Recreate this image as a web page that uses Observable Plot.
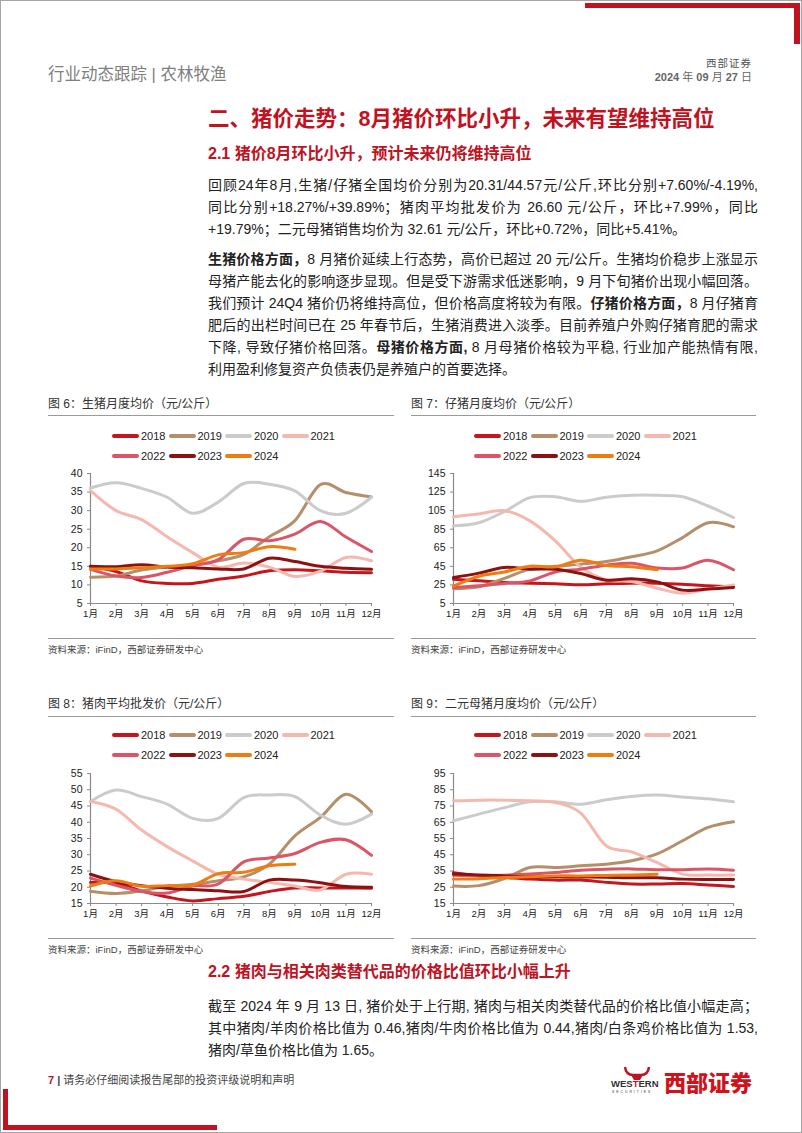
<!DOCTYPE html>
<html><head><meta charset="utf-8">
<script src="https://cdn.jsdelivr.net/npm/d3@7"></script>
<script src="https://cdn.jsdelivr.net/npm/@observablehq/plot@0.6"></script>
<style>
html,body{margin:0;padding:0;background:#fff;}
#page{position:relative;width:802px;height:1133px;overflow:hidden;box-sizing:border-box;border:1px solid #a6a6a6;
 font-family:"Liberation Sans",Arial,"Noto Sans CJK SC",sans-serif;color:#222;}
.abs{position:absolute;white-space:nowrap;}
.ln{position:absolute;left:207px;width:550px;height:22px;line-height:22px;font-size:14px;}
.j{text-align:justify;text-align-last:justify;}
.red{color:#c0121f;}
.ctitle{position:absolute;font-size:12px;color:#333;height:20px;line-height:20px;white-space:nowrap;}
.hr{position:absolute;height:1.3px;background:#9a9a9a;}
.src{position:absolute;font-size:9.5px;color:#444;height:16px;line-height:16px;white-space:nowrap;}
.legend{position:absolute;width:232px;font-size:11px;line-height:20px;}
.legend .it{display:inline-block;width:56.5px;height:20px;white-space:nowrap;}
.legend i{display:inline-block;width:27px;height:3.8px;border-radius:2px;vertical-align:middle;margin-right:2px;position:relative;top:-1px;}
.chart{position:absolute;}
b{font-weight:700;}
</style></head>
<body>
<div id="page">
 <!-- decorations -->
 <div class="abs" style="left:584px;top:2px;width:215px;height:5px;background:#c0121f"></div>
 <div class="abs" style="left:793px;top:2px;width:6px;height:41px;background:#c0121f"></div>
 <div class="abs" style="left:2px;top:1088px;width:5px;height:41px;background:#c0121f"></div>
 <div class="abs" style="left:2px;top:1124px;width:214px;height:5px;background:#c0121f"></div>

 <div class="abs" style="left:47px;top:62px;height:22px;line-height:22px;font-size:16.5px;color:#808080;">行业动态跟踪 | 农林牧渔</div>
 <div class="abs" style="right:49px;top:54px;height:16px;line-height:16px;font-size:10.5px;color:#555;letter-spacing:1px;">西部证券</div>
 <div class="abs" style="right:49px;top:68px;height:16px;line-height:16px;font-size:11px;color:#666;font-weight:700;">2024 <span style="font-weight:400">年</span> 09 <span style="font-weight:400">月</span> 27 <span style="font-weight:400">日</span></div>

 <div class="abs red" style="left:207px;top:103px;height:30px;line-height:30px;font-size:21.5px;font-weight:700;">二、猪价走势：8月猪价环比小升，未来有望维持高位</div>
 <div class="abs red" style="left:207px;top:142px;height:22px;line-height:22px;font-size:16px;font-weight:700;">2.1 猪价8月环比小升，预计未来仍将维持高位</div>

 <div class="ln j" style="top:173px">回顾24年8月,生猪/仔猪全国均价分别为20.31/44.57元/公斤,环比分别+7.60%/-4.19%,</div>
 <div class="ln j" style="top:195px">同比分别+18.27%/+39.89%；猪肉平均批发价为 26.60 元/公斤，环比+7.99%，同比</div>
 <div class="ln" style="top:217px">+19.79%；二元母猪销售均价为 32.61 元/公斤，环比+0.72%，同比+5.41%。</div>

 <div class="ln j" style="top:247px"><b>生猪价格方面，</b>8 月猪价延续上行态势，高价已超过 20 元/公斤。生猪均价稳步上涨显示</div>
 <div class="ln j" style="top:269px">母猪产能去化的影响逐步显现。但是受下游需求低迷影响，9 月下旬猪价出现小幅回落。</div>
 <div class="ln j" style="top:291px">我们预计 24Q4 猪价仍将维持高位，但价格高度将较为有限。<b>仔猪价格方面，</b>8 月仔猪育</div>
 <div class="ln j" style="top:313px">肥后的出栏时间已在 25 年春节后，生猪消费进入淡季。目前养殖户外购仔猪育肥的需求</div>
 <div class="ln j" style="top:335px">下降, 导致仔猪价格回落。<b>母猪价格方面,</b> 8 月母猪价格较为平稳, 行业加产能热情有限,</div>
 <div class="ln" style="top:357px">利用盈利修复资产负债表仍是养殖户的首要选择。</div>

 <!-- chart 6 -->
 <div class="ctitle" style="left:47px;top:393px">图 6：生猪月度均价（元/公斤）</div>
 <div class="hr" style="left:47px;top:413.5px;width:346px"></div>
 <div class="legend" id="lg6" style="left:111px;top:425px"></div>
 <div class="chart" id="c6" style="left:47px;top:464px"></div>
 <div class="hr" style="left:47px;top:636.5px;width:346px"></div>
 <div class="src" style="left:47px;top:641px">资料来源：iFinD，西部证券研发中心</div>

 <!-- chart 7 -->
 <div class="ctitle" style="left:410px;top:393px">图 7：仔猪月度均价（元/公斤）</div>
 <div class="hr" style="left:410px;top:413.5px;width:345px"></div>
 <div class="legend" id="lg7" style="left:473px;top:425px"></div>
 <div class="chart" id="c7" style="left:410px;top:464px"></div>
 <div class="hr" style="left:410px;top:636.5px;width:345px"></div>
 <div class="src" style="left:410px;top:641px">资料来源：iFinD，西部证券研发中心</div>

 <!-- chart 8 -->
 <div class="ctitle" style="left:47px;top:693px">图 8：猪肉平均批发价（元/公斤）</div>
 <div class="hr" style="left:47px;top:714.5px;width:346px"></div>
 <div class="legend" id="lg8" style="left:111px;top:724px"></div>
 <div class="chart" id="c8" style="left:47px;top:764px"></div>
 <div class="hr" style="left:47px;top:937px;width:346px"></div>
 <div class="src" style="left:47px;top:941px">资料来源：iFinD，西部证券研发中心</div>

 <!-- chart 9 -->
 <div class="ctitle" style="left:410px;top:693px">图 9：二元母猪月度均价（元/公斤）</div>
 <div class="hr" style="left:410px;top:714.5px;width:345px"></div>
 <div class="legend" id="lg9" style="left:473px;top:724px"></div>
 <div class="chart" id="c9" style="left:410px;top:764px"></div>
 <div class="hr" style="left:410px;top:937px;width:345px"></div>
 <div class="src" style="left:410px;top:941px">资料来源：iFinD，西部证券研发中心</div>

 <div class="abs red" style="left:207px;top:960px;height:22px;line-height:22px;font-size:16px;font-weight:700;">2.2 猪肉与相关肉类替代品的价格比值环比小幅上升</div>
 <div class="ln j" style="top:994px">截至 2024 年 9 月 13 日, 猪价处于上行期, 猪肉与相关肉类替代品的价格比值小幅走高；</div>
 <div class="ln j" style="top:1016px">其中猪肉/羊肉价格比值为 0.46,猪肉/牛肉价格比值为 0.44,猪肉/白条鸡价格比值为 1.53,</div>
 <div class="ln" style="top:1038px">猪肉/草鱼价格比值为 1.65。</div>

 <div class="abs" style="left:47px;top:1071px;height:16px;line-height:16px;font-size:11px;color:#444;"><b style="color:#c0121f">7</b> <b>|</b> 请务必仔细阅读报告尾部的投资评级说明和声明</div>

 <svg class="abs" style="left:608px;top:1062px" width="56" height="34" viewBox="0 0 56 34">
  <path d="M16,4 Q17,12 24,12 L32,12 Q39,12 40,4" fill="none" stroke="#c0121f" stroke-width="2.4"/>
  <path d="M22,12 L34,12 L31,17 L25,17 Z" fill="#c0121f"/>
  <text x="2" y="24" font-size="9.5" font-weight="700" fill="#333" font-family="Liberation Sans, Arial">WES<tspan fill="#c0121f">T</tspan>ERN</text>
  <text x="3" y="30" font-size="3.4" fill="#333" letter-spacing="2" font-family="Liberation Sans, Arial">SECURITIES</text>
 </svg>
 <div class="abs" style="left:663px;top:1066px;height:28px;line-height:28px;font-size:22px;font-weight:900;color:#d0121b;font-family:'Noto Sans CJK SC',sans-serif;">西部证券</div>
</div>

<script>
// ---- data ----
const years = ["2018", "2019", "2020", "2021", "2022", "2023", "2024"];
const yearColors = ["#c5161d", "#b48f6a", "#cbcbcb", "#f4b8ae", "#dc5567", "#8c1111", "#f07c0f"];
const months = [1, 2, 3, 4, 5, 6, 7, 8, 9, 10, 11, 12];
const monthLabels = ["1月", "2月", "3月", "4月", "5月", "6月", "7月", "8月", "9月", "10月", "11月", "12月"];

// 图6 生猪月度均价
const hogPrice = [
  [15.0, 13.6, 11.1, 10.4, 10.4, 11.5, 12.4, 13.8, 14.1, 13.8, 13.4, 13.3],
  [12.1, 12.4, 14.0, 14.8, 15.2, 16.5, 18.2, 23.0, 27.3, 37.0, 34.9, 33.7],
  [36.1, 37.5, 36.0, 33.6, 29.3, 32.3, 37.3, 37.1, 35.3, 30.0, 29.3, 33.6],
  [35.4, 30.0, 27.6, 23.0, 18.7, 14.8, 15.9, 14.8, 12.3, 13.7, 17.4, 16.5],
  [14.2, 12.4, 12.0, 13.4, 15.2, 16.8, 22.3, 21.9, 23.7, 27.1, 22.9, 19.0],
  [15.0, 14.9, 15.4, 14.8, 14.6, 14.3, 14.3, 17.2, 16.3, 15.0, 14.5, 14.2],
  [14.3, 14.3, 14.6, 15.0, 15.7, 18.1, 18.7, 20.3, 19.6]
];
const hogTicks = [5, 10, 15, 20, 25, 30, 35, 40];

// 图7 仔猪月度均价
const pigletPrice = [
  [31.0, 29.4, 27.6, 26.9, 26.2, 25.2, 26.2, 26.9, 26.9, 25.8, 24.0, 23.0],
  [21.0, 23.0, 32.0, 42.0, 45.0, 47.4, 50.2, 55.3, 61.7, 76.0, 92.0, 87.6],
  [88.6, 92.0, 104.0, 119.0, 120.0, 115.0, 119.5, 121.5, 121.5, 120.0, 110.0, 97.6],
  [98.5, 101.5, 105.0, 94.0, 72.5, 44.0, 30.5, 28.7, 21.5, 16.0, 20.5, 25.0],
  [22.2, 24.0, 26.6, 29.4, 39.0, 42.0, 46.3, 48.4, 43.2, 43.2, 51.7, 41.3],
  [33.0, 37.7, 43.8, 42.0, 42.0, 37.3, 30.1, 31.6, 28.3, 19.4, 20.5, 22.2],
  [23.7, 34.4, 39.0, 45.2, 44.5, 51.7, 46.0, 44.6, 41.3]
];
const pigletTicks = [5, 25, 45, 65, 85, 105, 125, 145];

// 图8 猪肉平均批发价
const porkPrice = [
  [21.5, 21.2, 18.8, 17.0, 15.8, 16.5, 17.2, 18.7, 19.8, 19.8, 19.8, 19.7],
  [18.8, 18.1, 18.9, 20.3, 20.9, 22.0, 23.2, 27.1, 35.8, 41.5, 48.6, 43.2],
  [46.4, 49.9, 47.9, 45.6, 41.2, 41.2, 47.6, 48.4, 47.9, 42.2, 39.4, 42.5],
  [46.4, 44.0, 37.6, 32.5, 28.1, 24.0, 22.5, 21.5, 20.4, 19.2, 24.0, 24.0],
  [22.8, 20.6, 18.7, 18.2, 20.4, 21.0, 27.8, 29.0, 30.4, 33.8, 34.6, 29.8],
  [24.0, 21.7, 20.5, 19.7, 19.3, 18.9, 18.7, 22.2, 22.2, 21.4, 20.2, 20.0],
  [20.4, 22.0, 20.3, 20.5, 20.6, 24.2, 24.6, 26.6, 27.1]
];
const porkTicks = [15, 20, 25, 30, 35, 40, 45, 50, 55];

// 图9 二元母猪月度均价
const sowPrice = [
  [34.0, 32.0, 31.0, 30.0, 29.4, 29.4, 28.0, 27.0, 27.0, 27.3, 26.4, 25.5],
  [25.7, 26.0, 30.4, 37.2, 37.2, 38.2, 39.2, 41.3, 45.5, 53.6, 61.8, 65.3],
  [65.9, 70.0, 74.0, 77.6, 77.6, 76.1, 78.8, 80.8, 81.7, 80.6, 79.4, 77.6],
  [78.2, 78.6, 78.6, 78.2, 77.2, 70.6, 50.5, 46.8, 40.2, 33.1, 32.5, 32.5],
  [32.4, 32.0, 32.4, 33.1, 34.1, 35.5, 36.1, 36.3, 35.8, 35.8, 36.3, 35.5],
  [33.1, 32.6, 32.0, 31.4, 31.4, 31.3, 31.2, 30.8, 30.8, 30.0, 29.8, 29.8],
  [30.0, 30.3, 31.0, 31.5, 32.0, 32.0, 32.3, 32.6, 33.0]
];
const sowTicks = [15, 25, 35, 45, 55, 65, 75, 85, 95];

// ---- drawing ----
function legend(id) {
  const el = document.getElementById(id);
  years.forEach((y, i) => {
    const s = document.createElement("span");
    s.className = "it";
    s.innerHTML = `<i style="background:${yearColors[i]}"></i>${y}`;
    el.appendChild(s);
  });
}

function drawChart(id, series, ticks, width) {
  const rows = [];
  series.forEach((vals, i) => vals.forEach((v, j) => rows.push({year: years[i], month: months[j], value: v})));
  const yMin = ticks[0], yMax = ticks[ticks.length - 1];
  const svg = Plot.plot({
    width: width, height: 166,
    marginLeft: 42, marginRight: 23, marginTop: 8, marginBottom: 28,
    style: {fontFamily: "Liberation Sans, Arial, 'Noto Sans CJK SC', sans-serif", fontSize: "10.5px", color: "#222", background: "transparent", overflow: "visible"},
    x: {domain: [1, 12]},
    y: {domain: [yMin, yMax]},
    color: {domain: years, range: yearColors},
    marks: [
      Plot.axisY({ticks: ticks, tickSize: 3, tickPadding: 5, fontSize: 10.5, label: null, stroke: "#8a8a8a"}),
      Plot.axisX({ticks: months, tickFormat: d => monthLabels[months.indexOf(d)], tickSize: 3, tickPadding: 4, fontSize: 9.5, label: null, stroke: "#8a8a8a"}),
      Plot.ruleY([yMin], {stroke: "#8a8a8a", strokeWidth: 1.2}),
      Plot.ruleX([1], {stroke: "#8a8a8a", strokeWidth: 1.2}),
      Plot.line(rows, {x: "month", y: "value", z: "year", stroke: "year", strokeWidth: 3, curve: "cardinal"})
    ]
  });
  document.getElementById(id).appendChild(svg);
}

["lg6", "lg7", "lg8", "lg9"].forEach(legend);
drawChart("c6", hogPrice, hogTicks, 346);
drawChart("c7", pigletPrice, pigletTicks, 345);
drawChart("c8", porkPrice, porkTicks, 346);
drawChart("c9", sowPrice, sowTicks, 345);
</script>
</body></html>
